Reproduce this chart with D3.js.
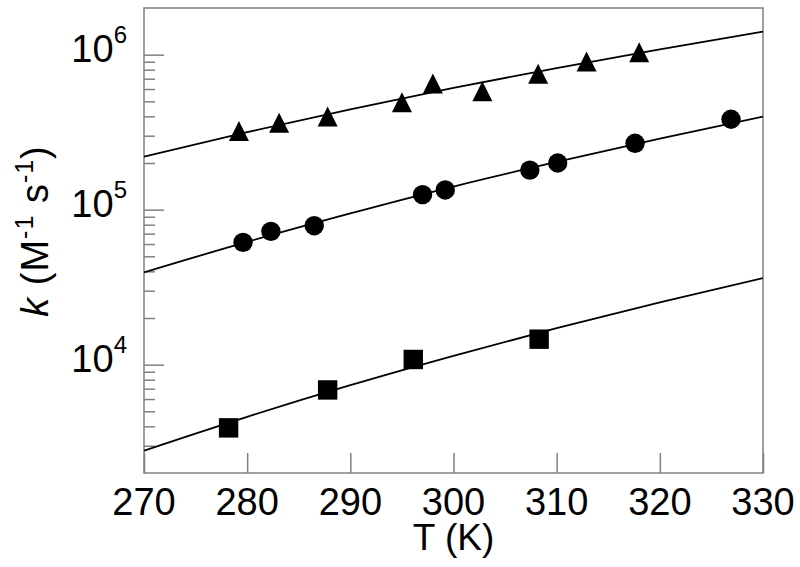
<!DOCTYPE html>
<html>
<head>
<meta charset="utf-8">
<script src="https://cdn.jsdelivr.net/npm/d3@7"></script>
<style>
  html, body { margin: 0; padding: 0; background: #fff; }
  svg { display: block; }
  text { font-family: "Liberation Sans", Arial, sans-serif; fill: #000; }
</style>
</head>
<body>
<svg id="chart" width="800" height="567"></svg>
<script>
// ---- data ----
const tempTri  = [279.2, 283.1, 287.8, 295.0, 298.0, 302.8, 308.2, 312.9, 318.0];
const kTri     = [3.22e5, 3.64e5, 3.99e5, 4.94e5, 6.52e5, 5.80e5, 7.52e5, 9.05e5, 1.035e6];
const tempCirc = [279.6, 282.3, 286.5, 297.0, 299.2, 307.4, 310.1, 317.6, 326.9];
const kCirc    = [6.15e4, 7.24e4, 7.88e4, 1.25e5, 1.34e5, 1.80e5, 2.00e5, 2.68e5, 3.83e5];
const tempSq   = [278.2, 287.8, 296.1, 308.3];
const kSq      = [3.91e3, 6.87e3, 1.08e4, 1.46e4];

const fitT    = [270, 280, 290, 300, 310, 320, 330];
const fitTri  = [2.20e5, 3.16e5, 4.44e5, 6.10e5, 8.20e5, 1.08e6, 1.41e6];
const fitCirc = [3.94e4, 6.20e4, 9.46e4, 1.41e5, 2.03e5, 2.87e5, 3.98e5];
const fitSq   = [2.79e3, 4.61e3, 7.37e3, 1.14e4, 1.72e4, 2.52e4, 3.62e4];

const xTicks = [270, 280, 290, 300, 310, 320, 330];
const yMajor = [1e4, 1e5, 1e6];
const yExp   = ["4", "5", "6"];

// ---- layout ----
const pL = 144, pR = 763, pT = 8, pB = 473;
const svg = d3.select("#chart");
const x = d3.scaleLinear().domain([270, 330]).range([pL, pR]);
const y = d3.scaleLog().domain([2000, 2e6]).range([pB, pT]);

const gray = "#808080";

// minor ticks
const minor = [];
[1e3, 1e4, 1e5, 1e6].forEach(d => { for (let m = 2; m <= 9; m++) { const v = d * m; if (v > 2000 && v < 2e6) minor.push(v); } });

const yAxis = d3.axisLeft(y).tickValues(minor).tickFormat("").tickSizeInner(-11).tickSizeOuter(0);
const gy = svg.append("g").attr("transform", `translate(${pL},0)`).call(yAxis);
gy.select(".domain").remove();
gy.selectAll(".tick line").attr("stroke", gray).attr("stroke-width", 1.5);

const yAxisMaj = d3.axisLeft(y).tickValues(yMajor).tickFormat("").tickSizeInner(-20).tickSizeOuter(0);
const gy2 = svg.append("g").attr("transform", `translate(${pL},0)`).call(yAxisMaj);
gy2.select(".domain").remove();
gy2.selectAll(".tick line").attr("stroke", gray).attr("stroke-width", 1.5);

const xAxis = d3.axisBottom(x).tickValues(xTicks).tickFormat("").tickSizeInner(-20).tickSizeOuter(0);
const gx = svg.append("g").attr("transform", `translate(0,${pB})`).call(xAxis);
gx.select(".domain").remove();
gx.selectAll(".tick line").attr("stroke", gray).attr("stroke-width", 1.5);

// frame
svg.append("rect").attr("x", pL).attr("y", pT).attr("width", pR - pL).attr("height", pB - pT)
  .attr("fill", "none").attr("stroke", gray).attr("stroke-width", 1.5);

// x tick labels
svg.append("g").selectAll("text").data(xTicks).join("text")
  .attr("x", d => x(d)).attr("y", 515).attr("text-anchor", "middle")
  .attr("font-size", 38).text(d => d);

// y tick labels
yMajor.forEach((v, i) => {
  const t = svg.append("text").attr("x", 127).attr("y", y(v) + 7).attr("text-anchor", "end").attr("font-size", 38);
  t.append("tspan").text("10");
  t.append("tspan").attr("font-size", 24).attr("dy", -19).text(yExp[i]);
});

// axis titles
svg.append("text").attr("x", (pL + pR) / 2).attr("y", 550).attr("text-anchor", "middle")
  .attr("font-size", 37).text("T (K)");

const yl = svg.append("text").attr("transform", `translate(48,${231}) rotate(-90)`)
  .attr("text-anchor", "middle").attr("font-size", 38).attr("letter-spacing", 1);
yl.append("tspan").attr("font-style", "italic").text("k");
yl.append("tspan").text(" (M");
yl.append("tspan").attr("font-size", 25).attr("dy", -15).text("-1");
yl.append("tspan").attr("dy", 15).text(" s");
yl.append("tspan").attr("font-size", 25).attr("dy", -15).text("-1");
yl.append("tspan").attr("dy", 15).text(")");

// fit lines
svg.append("clipPath").attr("id", "clip").append("rect")
  .attr("x", pL).attr("y", pT).attr("width", pR - pL).attr("height", pB - pT);
const line = d3.line().x(d => x(d[0])).y(d => y(d[1])).curve(d3.curveMonotoneX);
[fitTri, fitCirc, fitSq].forEach(arr => {
  svg.append("path").attr("clip-path", "url(#clip)")
    .attr("d", line(fitT.map((t, i) => [t, arr[i]])))
    .attr("fill", "none").attr("stroke", "#000").attr("stroke-width", 1.8);
});

// markers
const tri = tempTri.map((t, i) => [t, kTri[i]]);
svg.append("g").selectAll("path").data(tri).join("path")
  .attr("d", d => { const cx = x(d[0]), cy = y(d[1]); return `M${cx},${cy - 10}L${cx + 10},${cy + 10}L${cx - 10},${cy + 10}Z`; })
  .attr("fill", "#000");

const circ = tempCirc.map((t, i) => [t, kCirc[i]]);
svg.append("g").selectAll("circle").data(circ).join("circle")
  .attr("cx", d => x(d[0])).attr("cy", d => y(d[1])).attr("r", 9.7).attr("fill", "#000");

const sq = tempSq.map((t, i) => [t, kSq[i]]);
svg.append("g").selectAll("rect").data(sq).join("rect")
  .attr("x", d => x(d[0]) - 9.7).attr("y", d => y(d[1]) - 9.7).attr("width", 19.4).attr("height", 19.4).attr("fill", "#000");
</script>
</body>
</html>
